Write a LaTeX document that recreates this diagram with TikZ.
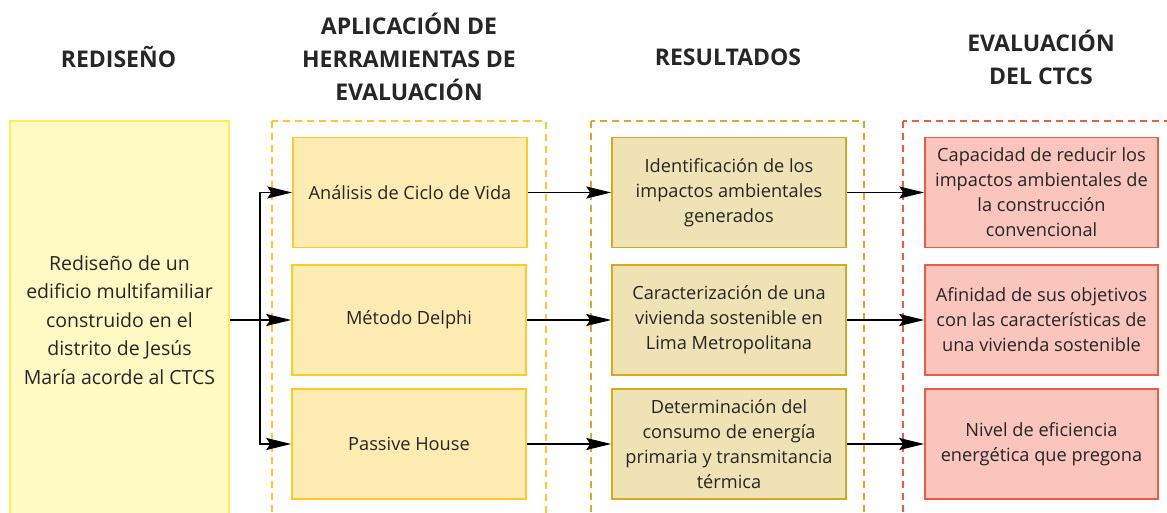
\documentclass[tikz,border=0pt]{standalone}
\usepackage{fontspec}
\setmainfont{Open Sans}
\usetikzlibrary{arrows.meta}
\definecolor{txt}{HTML}{262626}
\definecolor{lfill}{HTML}{FFF9C4}
\definecolor{ldraw}{HTML}{FFEE58}
\definecolor{afill}{HTML}{FFECB3}
\definecolor{adraw}{HTML}{FFCA28}
\definecolor{dashA}{HTML}{FFC727}
\definecolor{rfill}{HTML}{EFE2B4}
\definecolor{rdraw}{HTML}{D6AA1E}
\definecolor{dashR}{HTML}{D9AB22}
\definecolor{efill}{HTML}{F9C5BC}
\definecolor{edraw}{HTML}{EE5A44}
\definecolor{dashE}{HTML}{F0584A}
\tikzset{
  head/.style={text=txt, align=center, font=\fontsize{23}{33}\selectfont\bfseries},
  boxbase/.style={rectangle, line width=1.5pt, align=center, text=txt, inner sep=2pt,
    font=\fontsize{18.2}{25}\selectfont, minimum width=234pt, minimum height=110pt},
  abox/.style={boxbase, fill=afill, draw=adraw},
  rbox/.style={boxbase, fill=rfill, draw=rdraw},
  ebox/.style={boxbase, fill=efill, draw=edraw, minimum width=233pt},
  lbox/.style={rectangle, line width=1.5pt, fill=lfill, draw=ldraw, align=center, text=txt,
    font=\fontsize{19.5}{28.5}\selectfont, minimum width=219pt, minimum height=398pt, inner sep=2pt},
  grp/.style={line width=1.5pt, dash pattern=on 7pt off 5pt},
  arr/.style={line width=1.6pt, -{Stealth[length=25pt, width=12pt, inset=4pt]}},
  ln/.style={line width=1.5pt}
}
\begin{document}
\begin{tikzpicture}[x=1pt, y=-1pt]
\useasboundingbox (0,0) rectangle (1167,513);
\fill[white] (0,0) rectangle (1167,513);
% headers
\node[head] (h1) at (118.5,57) {REDISEÑO};
\node[head] (h2) at (409,57) {APLICACIÓN DE\\HERRAMIENTAS DE\\EVALUACIÓN};
\node[head] (h3) at (728,57) {RESULTADOS};
\node[head] (h4) at (1041,57.5) {EVALUACIÓN\\DEL CTCS};
% group frames
\draw[grp, draw=dashA] (272,121) rectangle (546,540);
\draw[grp, draw=dashR] (591,121) rectangle (864,540);
\draw[grp, draw=dashE] (903,121) rectangle (1200,540);
% left box
\node[lbox] (L) at (119.5,320) {Rediseño de un\\edificio multifamiliar\\construido en el\\distrito de Jesús\\María acorde al CTCS};
% tools
\node[abox] (a1) at (410,192.5) {Análisis de Ciclo de Vida};
\node[abox] (a2) at (409,320) {Método Delphi};
\node[abox] (a3) at (409,444) {Passive House};
% results
\node[rbox] (r1) at (729,192.5) {Identificación de los\\impactos ambientales\\generados};
\node[rbox] (r2) at (729,320) {Caracterización de una\\vivienda sostenible en\\Lima Metropolitana};
\node[rbox] (r3) at (729,444) {Determinación del\\consumo de energía\\primaria y transmitancia\\térmica};
% evaluation
\node[ebox] (e1) at (1041.5,192.5) {Capacidad de reducir los\\impactos ambientales de\\la construcción\\convencional};
\node[ebox] (e2) at (1041.5,320) {Afinidad de sus objetivos\\con las características de\\una vivienda sostenible};
\node[ebox] (e3) at (1041.5,444) {Nivel de eficiencia\\energética que pregona};
% connectors
\coordinate (j) at (260,320);
\draw[arr] (L.east) -- (a2.west);
\draw[arr] (j) |- (a1.west);
\draw[arr] (j) |- (a3.west);
\draw[arr] (a1.east) -- (r1.west);
\draw[arr] (a2.east) -- (r2.west);
\draw[arr] (a3.east) -- (r3.west);
\draw[arr] (r1.east) -- (e1.west);
\draw[arr] (r2.east) -- (e2.west);
\draw[arr] (r3.east) -- (e3.west);
\end{tikzpicture}
\end{document}
